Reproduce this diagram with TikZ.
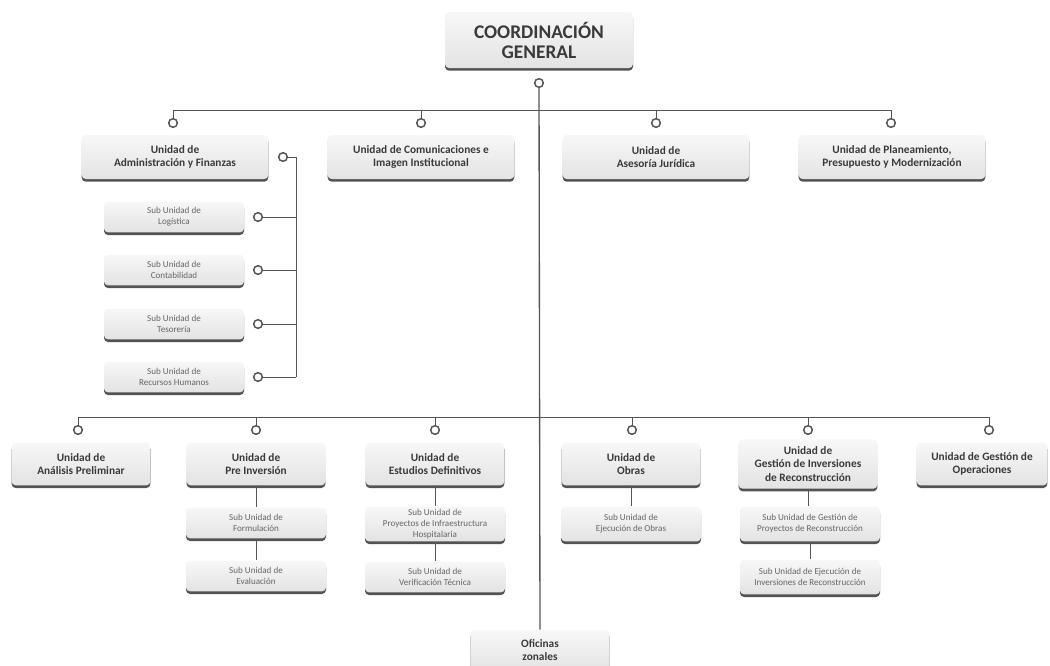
\documentclass[tikz,border=0pt]{standalone}
\usepackage{fontspec}
\setmainfont{Carlito}
\usepackage{tikz}
\usetikzlibrary{shadows,positioning}

\definecolor{textgray}{HTML}{3A3A3A}
\definecolor{subgray}{HTML}{666666}
\definecolor{linegray}{HTML}{555555}

\begin{document}
\begin{tikzpicture}[x=0.75pt,y=-0.75pt]
                \tikzstyle{every node}+=[inner sep=0pt]
                \tikzstyle{caja}=[rectangle, rounded corners=3pt, top color=gray!6, bottom color=gray!22,
                    drop shadow={shadow xshift=0pt, shadow yshift=-2pt, fill=gray!50!black, opacity=0.9},
                    text=textgray, align=center]
                \tikzstyle{general}=[caja, minimum width=141pt, minimum height=42pt,
                    font=\fontsize{14.5}{15}\selectfont\bfseries]
                \tikzstyle{unidad}=[caja, minimum width=140pt, minimum height=33pt,
                    font=\fontsize{8.5}{10}\selectfont\bfseries]
                \tikzstyle{unidadb}=[caja, minimum width=104pt, minimum height=32pt,
                    font=\fontsize{8.5}{10}\selectfont\bfseries]
                \tikzstyle{subunidad}=[caja, minimum width=105pt, minimum height=23pt,
                    text=subgray, font=\fontsize{6.8}{8.2}\selectfont]
                \tikzstyle{nudo}=[circle, draw=linegray, line width=1.1pt, fill=white, minimum size=6.5pt]
                \tikzstyle{linea}=[draw=linegray, line width=0.7pt]

                \useasboundingbox (0,0) rectangle (1050,665);

                % coordinacion general
                \node [general] (cg) at (539,40) {COORDINACIÓN\\GENERAL};
                \node [nudo] (c0) at (539,83) {};
                \node [unidadb, minimum height=30pt] (ofi) at (540,650) {Oficinas\\zonales};
                \draw [linea, line width=1pt] (c0) -- (ofi.north);

                % primera fila
                \coordinate (bus1) at (539,110);
                \node [unidad] (adm) at (175,157) {Unidad de\\Administración y Finanzas};
                \node [unidad] (com) at (421,157) {Unidad de Comunicaciones e\\Imagen Institucional};
                \node [unidad] (ase) at (656,157) {Unidad de\\Asesoría Jurídica};
                \node [unidad] (pla) at (892,157) {Unidad de Planeamiento,\\Presupuesto y Modernización};
                \node [nudo] (n1) at (173,123) {};
                \node [nudo] (n2) at (421,123) {};
                \node [nudo] (n3) at (656,123) {};
                \node [nudo] (n4) at (891,123) {};
                \draw [linea] (n1 |- bus1) -- (n4 |- bus1);
                \foreach \n in {n1,n2,n3,n4}
                    \draw [linea] (\n.north) -- (\n |- bus1);

                % sub unidades de administracion
                \node [nudo] (na) at (283,157) {};
                \coordinate (riel) at (296,157);
                \node [subunidad] (log) at (174,217) {Sub Unidad de\\Logística};
                \node [subunidad] (con) at (174,270) {Sub Unidad de\\Contabilidad};
                \node [subunidad] (tes) at (174,324) {Sub Unidad de\\Tesorería};
                \node [subunidad] (rrh) at (174,377) {Sub Unidad de\\Recursos Humanos};
                \node [nudo] (s1) at (258,217) {};
                \node [nudo] (s2) at (258,270) {};
                \node [nudo] (s3) at (258,324) {};
                \node [nudo] (s4) at (258,377) {};
                \draw [linea] (na.east) -- (riel) -- (riel |- s4);
                \foreach \n in {s1,s2,s3,s4}
                    \draw [linea] (\n.east) -- (\n -| riel);

                % segunda fila
                \coordinate (bus2) at (539,417);
                \node [unidadb] (ana) at (81,464) {Unidad de\\Análisis Preliminar};
                \node [unidadb] (pre) at (256,464) {Unidad de\\Pre Inversión};
                \node [unidadb] (est) at (435,464) {Unidad de\\Estudios Definitivos};
                \node [unidadb] (obr) at (631,464) {Unidad de\\Obras};
                \node [unidadb, minimum height=37pt] (gir) at (808,464) {Unidad de\\Gestión de Inversiones\\de Reconstrucción};
                \node [unidadb, minimum width=98pt] (gop) at (982,464) {Unidad de Gestión de\\Operaciones};
                \node [nudo] (m1) at (78,430) {};
                \node [nudo] (m2) at (256,430) {};
                \node [nudo] (m3) at (435,430) {};
                \node [nudo] (m4) at (632,430) {};
                \node [nudo] (m5) at (808,430) {};
                \node [nudo] (m6) at (989,430) {};
                \draw [linea] (m1 |- bus2) -- (m6 |- bus2);
                \foreach \n in {m1,m2,m3,m4,m5,m6}
                    \draw [linea] (\n.north) -- (\n |- bus2);

                % sub unidades de la segunda fila
                \node [subunidad] (for) at (256,523) {Sub Unidad de\\Formulación};
                \node [subunidad] (eva) at (256,576) {Sub Unidad de\\Evaluación};
                \node [subunidad, minimum height=26pt] (pih) at (435,524) {Sub Unidad de\\Proyectos de Infraestructura\\Hospitalaria};
                \node [subunidad] (ver) at (435,577) {Sub Unidad de\\Verificación Técnica};
                \node [subunidad, minimum height=26pt] (eob) at (631,524) {Sub Unidad de\\Ejecución de Obras};
                \node [subunidad, minimum height=26pt] (gpr) at (810,524) {Sub Unidad de Gestión de\\Proyectos de Reconstrucción};
                \node [subunidad, minimum height=26pt] (eir) at (810,577) {Sub Unidad de Ejecución de\\Inversiones de Reconstrucción};
                \draw [linea] (pre) -- (for);
                \draw [linea] (for) -- (eva);
                \draw [linea] (est) -- (pih);
                \draw [linea] (pih) -- (ver);
                \draw [linea] (obr) -- (eob);
                \draw [linea] (gir.south) -- (gir.south |- gpr.north);
                \draw [linea] (gpr) -- (eir);
\end{tikzpicture}
\end{document}
